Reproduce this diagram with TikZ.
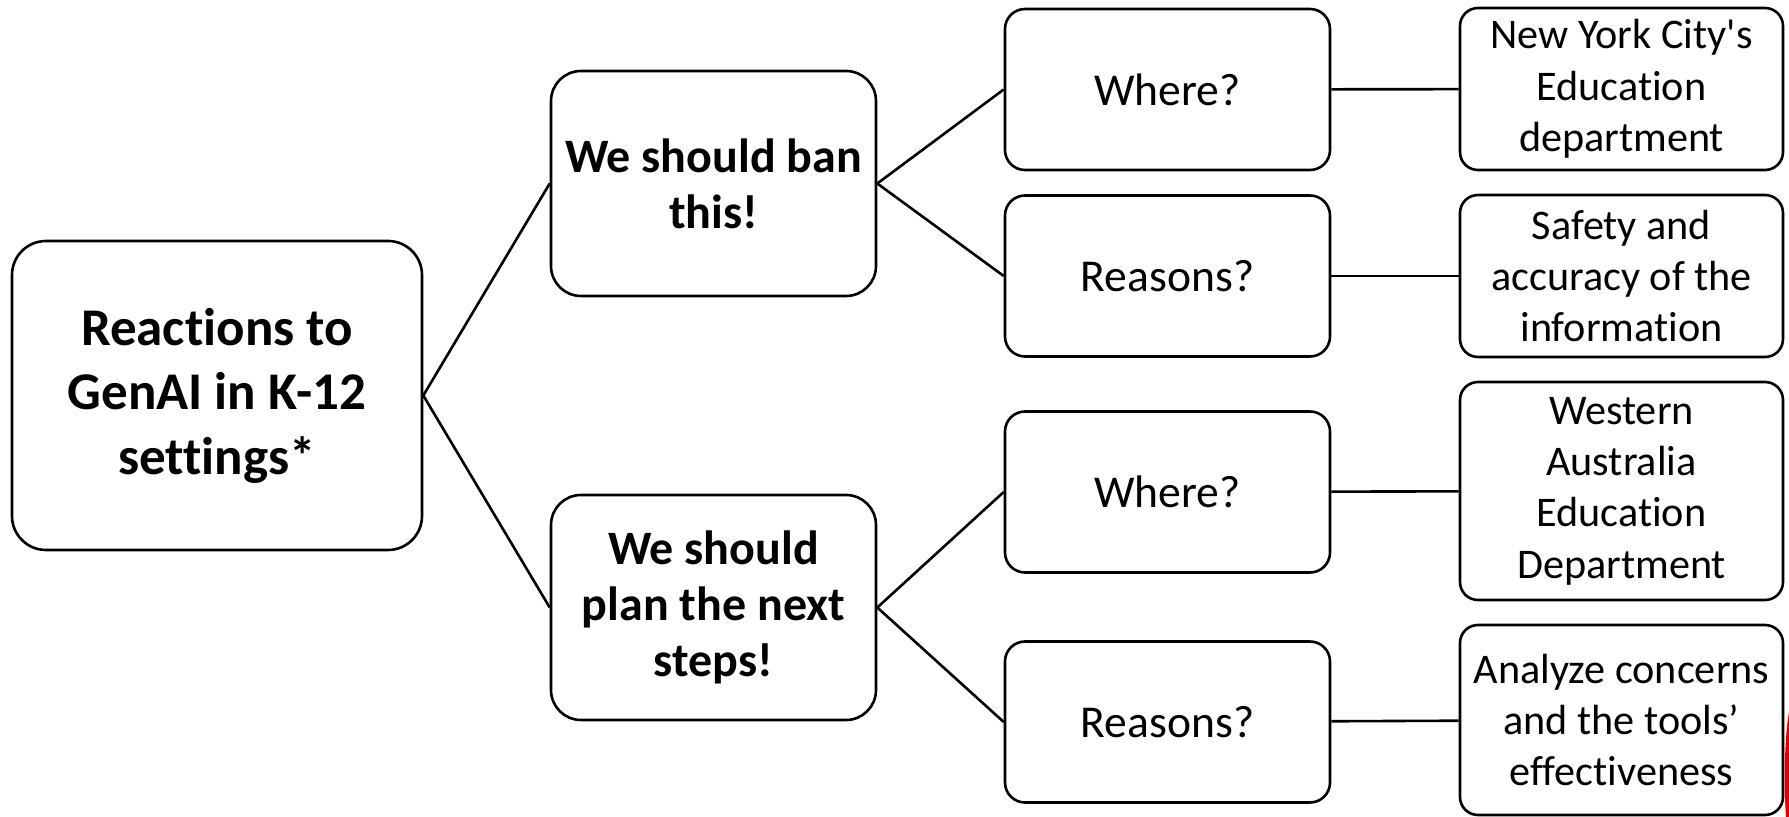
\documentclass[tikz,border=0pt]{standalone}
\usepackage{fontspec}
\setmainfont{Carlito}[Ligatures=NoCommon]
\usetikzlibrary{positioning}

\begin{document}
\begin{tikzpicture}[x=0.5pt,y=-0.5pt,line width=1.3pt,
    rootbox/.style={draw,rounded corners=17pt,minimum width=205pt,minimum height=154.5pt,inner sep=0pt,align=center,font=\fontsize{26.5}{32.3}\selectfont\bfseries},
    mainbox/.style={draw,rounded corners=15pt,minimum width=162.5pt,minimum height=112.5pt,inner sep=0pt,align=center,font=\fontsize{24}{28}\selectfont\bfseries},
    askbox/.style={draw,rounded corners=10pt,minimum width=162.5pt,minimum height=80.5pt,inner sep=0pt,align=center,font=\fontsize{22.8}{27.5}\selectfont},
    infobox/.style={draw,rounded corners=9pt,minimum width=161.5pt,minimum height=#1,inner sep=0pt,align=center,font=\fontsize{21.1}{25.7}\selectfont}]

    \useasboundingbox (0,0) rectangle (1789,817);

      \node[rootbox]  (root)  at (217,395.5)    {Reactions to\\GenAI in K-12\\settings*};
      \node[mainbox]  (ban)   at (713.5,183.5)  {We should ban\\this!};
      \node[mainbox]  (plan)  at (713.5,607.5)  {We should\\plan the next\\steps!};

      \node[askbox]   (ban_w)  at (1167.5,89.5) {Where?};
      \node[askbox]   (ban_r)  at (1167.5,276)  {Reasons?};
      \node[askbox]   (plan_w) at (1167.5,492)  {Where?};
      \node[askbox]   (plan_r) at (1167.5,722)  {Reasons?};

      \node[infobox=81pt]  (ban_w')  at (1621.5,89)  {New York City\textquotesingle s\\Education\\department};
      \node[infobox=81pt]  (ban_r')  at (1621.5,276) {Safety and\\accuracy of the\\information};
      \node[infobox=109pt] (plan_w') at (1621.5,491) {Western\\Australia\\Education\\Department};
      \node[infobox=95pt]  (plan_r') at (1621.5,720) {Analyze concerns\\and the tools’\\effectiveness};

      \path (root.east) edge (ban.west)
            (root.east) edge (plan.west)
            (ban.east)  edge (ban_w.west)
            (ban.east)  edge (ban_r.west)
            (plan.east) edge (plan_w.west)
            (plan.east) edge (plan_r.west)
            (ban_w)  edge (ban_w')
            (ban_r)  edge (ban_r')
            (plan_w) edge (plan_w')
            (plan_r) edge (plan_r');

      % red edge at the bottom right
      \fill[red!85!black] (1789,712) .. controls (1784,740) and (1784,790) .. (1786,817) -- (1789,817) -- cycle;
    \end{tikzpicture}
\end{document}
